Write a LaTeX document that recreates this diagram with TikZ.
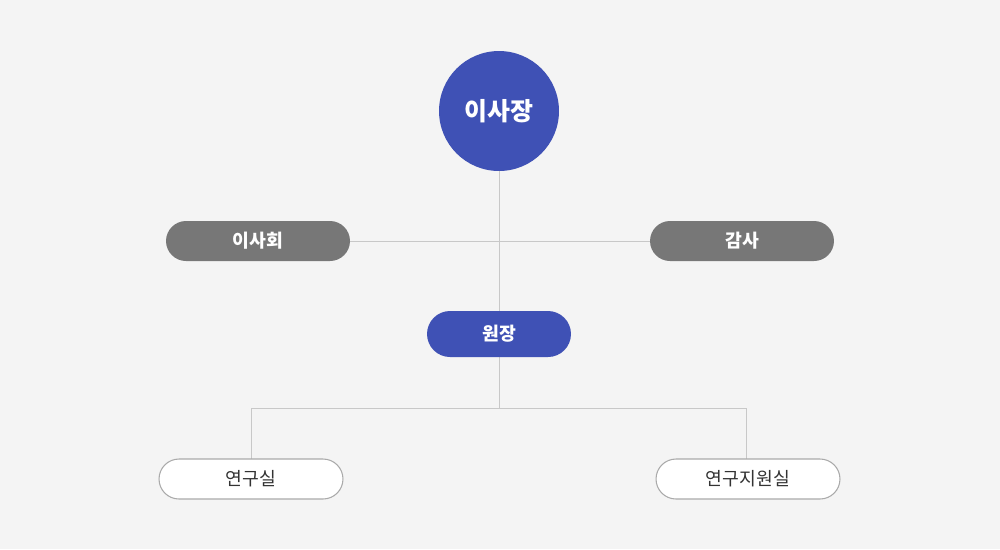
\documentclass[tikz,border=0pt]{standalone}
\usepackage{fontspec}
\setmainfont{Noto Sans CJK KR}
\usepackage{tikz}
\usetikzlibrary{positioning, calc}
\definecolor{orgbg}{HTML}{F4F4F4}
\definecolor{orgblue}{HTML}{3F51B5}
\definecolor{orggray}{HTML}{777777}
\definecolor{orgline}{HTML}{C8C8C8}
\definecolor{orgtext}{HTML}{333333}
\definecolor{orgedge}{HTML}{AAAAAA}

\begin{document}
\begin{tikzpicture}[x=0.02cm, y=-0.02cm,
    chairbox/.style={circle, fill=orgblue, minimum size=2.4cm, inner sep=0pt,
        text=white, font=\fontsize{14.2}{17}\selectfont\bfseries},
    graybox/.style={rounded corners=0.4cm, fill=orggray, minimum width=3.68cm,
        minimum height=0.8cm, inner sep=0pt, text=white,
        font=\fontsize{10.4}{12}\selectfont\bfseries},
    bluebox/.style={rounded corners=0.46cm, fill=orgblue, minimum width=2.88cm,
        minimum height=0.92cm, inner sep=0pt, text=white,
        font=\fontsize{10.4}{12}\selectfont\bfseries},
    whitebox/.style={rounded corners=0.4cm, fill=white, draw=orgedge, line width=0.6pt,
        minimum width=3.68cm, minimum height=0.8cm, inner sep=0pt, text=orgtext,
        font=\fontsize{10.4}{12}\selectfont},
    link/.style={draw=orgline, line width=0.5pt}]

% Background
\fill[orgbg] (0,0) rectangle (1000,549);
\useasboundingbox (0,0) rectangle (1000,549);

% Links (drawn first, under the boxes)
\coordinate (split) at (499,408);
\coordinate (labtop) at (251,459);
\coordinate (suptop) at (746,459);
\coordinate (chairbot) at (499,171);
\coordinate (dirtop) at (499,311);
\coordinate (dirbot) at (499,357);
\draw[link] (chairbot) -- (dirtop);
\draw[link] (350,241) coordinate (boardend) -- (650,241) coordinate (auditend);
\draw[link] (dirbot) -- (split);
\draw[link] (labtop) |- (split) -| (suptop);

% Top
\node[chairbox] (chair) at (499,111) {이사장};

% Middle row
\node[graybox] (board) at (258,241) {이사회};
\node[graybox] (audit) at (742,241) {감사};
\node[bluebox] (director) at (499,334) {원장};

% Bottom row
\node[whitebox] (lab) at (251,479) {연구실};
\node[whitebox] (support) at (748,479) {연구지원실};

\end{tikzpicture}
\end{document}
